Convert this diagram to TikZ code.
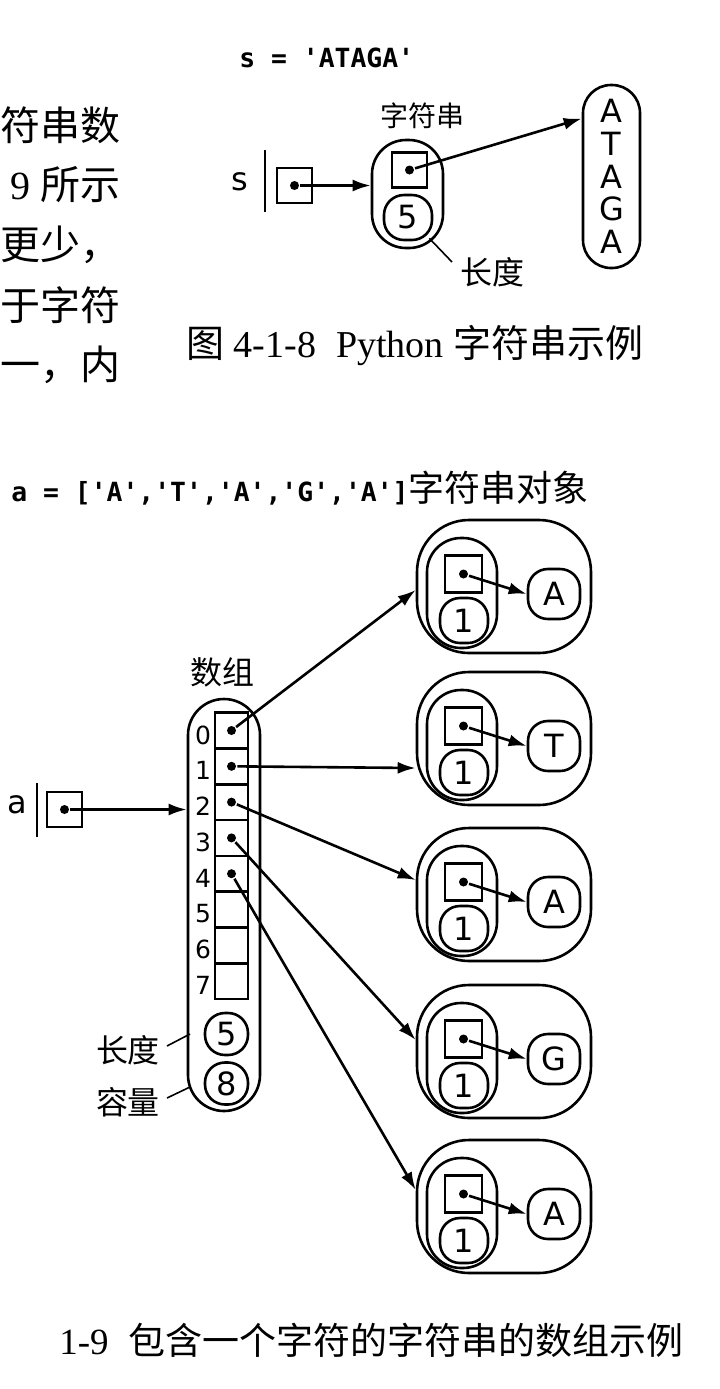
\documentclass[tikz,border=0pt]{standalone}
\usepackage{fontspec}
\setmainfont{Liberation Serif}
\newfontfamily\cjk{Noto Sans CJK SC}
\newfontfamily\sansf{DejaVu Sans}
\newfontfamily\monof{DejaVu Sans Mono}
\usetikzlibrary{arrows.meta,calc}
\begin{document}
\begin{tikzpicture}[x=0.5pt,y=-0.5pt,line width=1.3pt,
  arr/.style={-{Latex[length=9pt,width=6pt]}},
  cell/.style={draw,minimum width=16.5pt,minimum height=17.9pt,inner sep=0pt},
  box/.style={draw,minimum width=17.5pt,minimum height=17.5pt,inner sep=0pt},
  rnd/.style={draw,minimum width=24pt,minimum height=22.5pt,rounded corners=10pt,inner sep=0pt,font=\sansf\fontsize{16}{16}\selectfont},
  dot/.style={circle,fill,inner sep=0pt,minimum size=4.5pt},
  lab/.style={font=\cjk\fontsize{16}{16}\selectfont,inner sep=0pt},
  body/.style={font=\fontsize{20}{20}\selectfont,inner sep=0pt,anchor=east},
  idx/.style={font=\sansf\fontsize{12.5}{12.5}\selectfont,inner sep=0pt}]
\useasboundingbox (0,0) rectangle (719,1389);
\fill[white] (0,0) rectangle (719,1389);

% left body text (visible part of the page)
\node[body] (t1) at (122,125) {{\cjk 符串数}};
\node[body] (t2) at (122,185) {9 {\cjk 所示}};
\node[body] (t3) at (122,245) {{\cjk 更少，}};
\node[body] (t4) at (122,305) {{\cjk 于字符}};
\node[body] (t5) at (122,365) {{\cjk 一，内}};

% ---------- figure 4-1-8 ----------
\node[anchor=west,inner sep=0pt,font=\monof\bfseries\fontsize{13.2}{13.2}\selectfont] (scode) at (238,58) {s = 'ATAGA'};
\node[inner sep=0pt,font=\sansf\fontsize{16}{16}\selectfont] (sname) at (240,182) {s};
\draw[line width=0.8pt] (265,150) -- (265,212);
\node[box] (sbox) at (294.5,185.5) {};
\node[dot] (sdot) at (sbox.center) {};
\node[draw,minimum width=35.5pt,minimum height=54pt,rounded corners=17pt] (strobj) at (407.5,194) {};
\node[box] (sin) at (409.5,170) {};
\node[dot] (sindot) at (sin.center) {};
\node[rnd] (slen) at (408,217.5) {5};
\node[lab,font=\cjk\fontsize{14}{14}\selectfont] (strlab) at (422,116) {字符串};
\node[lab] (lenlab) at (492,272) {长度};
\draw[line width=0.8pt] (slen.south east) ++(-4,-3) coordinate (lenA) -- (452,262) coordinate (lenB);
\node[draw,minimum width=28.5pt,minimum height=91.5pt,rounded corners=14pt,align=center,
  font=\sansf\fontsize{16}{16.3}\selectfont,inner sep=0pt] (atag) at (611.5,176.5) {A\\T\\A\\G\\A};
\draw[arr] (sdot) -- (sdot -| strobj.west);
\coordinate (atin) at ($(atag.west)+(0,-58)$);
\draw[arr] (sindot) -- (atin);
\node[anchor=west,inner sep=0pt,font=\fontsize{19}{19}\selectfont] (cap1) at (185,345) {{\cjk 图} 4-1-8\hspace{10pt}Python {\cjk 字符串示例}};

% ---------- figure 4-1-9 ----------
\node[anchor=west,inner sep=0pt] (acode) at (10,488) {{\monof\bfseries\fontsize{13.2}{13.2}\selectfont a = ['A','T','A','G','A']}{\cjk\fontsize{18}{18}\selectfont 字符串对象}};
\node[inner sep=0pt,font=\sansf\fontsize{16}{16}\selectfont] (aname) at (17,805) {a};
\draw[line width=0.8pt] (37,783) -- (37,837);
\node[box] (abox) at (64.5,809.5) {};
\node[dot] (adot) at (abox.center) {};
\node[draw,minimum width=36pt,minimum height=206pt,rounded corners=18pt] (arr) at (224,905) {};
\node[lab] (arrlab) at (222,672) {数组};
\foreach \i in {0,...,7} {
  \node[cell] (c\i) at (231.5,{730.5+35.8*\i}) {};
  \node[idx] (i\i) at (203,{735+35.8*\i}) {\i};
}
\foreach \i in {0,...,4} { \node[dot] (d\i) at (c\i.center) {}; }
\node[rnd,minimum width=21.5pt,minimum height=21pt] (alen) at (226.5,1034) {5};
\node[rnd,minimum width=21.5pt,minimum height=21pt] (acap) at (226.5,1083.5) {8};
\node[lab] (alenlab) at (128,1050) {长度};
\node[lab] (acaplab) at (128,1102) {容量};
\draw[line width=0.8pt] (167,1046) coordinate (la) -- (190,1034) coordinate (lb);
\draw[line width=0.8pt] (167,1098) coordinate (lc) -- (190,1087) coordinate (ld);
\draw[arr] (adot) -- (adot -| arr.west);

\foreach \k/\T/\ch/\dy in {0/520/A/3.5, 1/672/T/29.5, 2/828/A/-14.5, 3/985/G/-11.5, 4/1140/A/-16.5} {
  \node[draw,minimum width=87pt,minimum height=66.5pt,rounded corners=26pt] (o\k) at (504,\T+66.5) {};
  \node[draw,minimum width=35pt,minimum height=55pt,rounded corners=17pt] (p\k) at (462,\T+73) {};
  \node[box,minimum width=18.5pt,minimum height=18.5pt] (b\k) at (463.5,\T+54) {};
  \node[dot] (bd\k) at (b\k.center) {};
  \node[rnd] (n\k) at (464,\T+100.5) {1};
  \node[rnd,minimum width=26pt,minimum height=25pt] (ch\k) at (554,\T+74) {\ch};
  \draw[arr] (bd\k) -- (ch\k.west);
  \coordinate (e\k) at ($(o\k.west)+(0,\dy)$);
  \draw[arr] (d\k) -- (e\k);
}
\node[anchor=east,inner sep=0pt,font=\fontsize{18.5}{18.5}\selectfont] (cap2) at (685,1340) {1-9\hspace{10pt}{\cjk 包含一个字符的字符串的数组示例}};
\end{tikzpicture}
\end{document}
